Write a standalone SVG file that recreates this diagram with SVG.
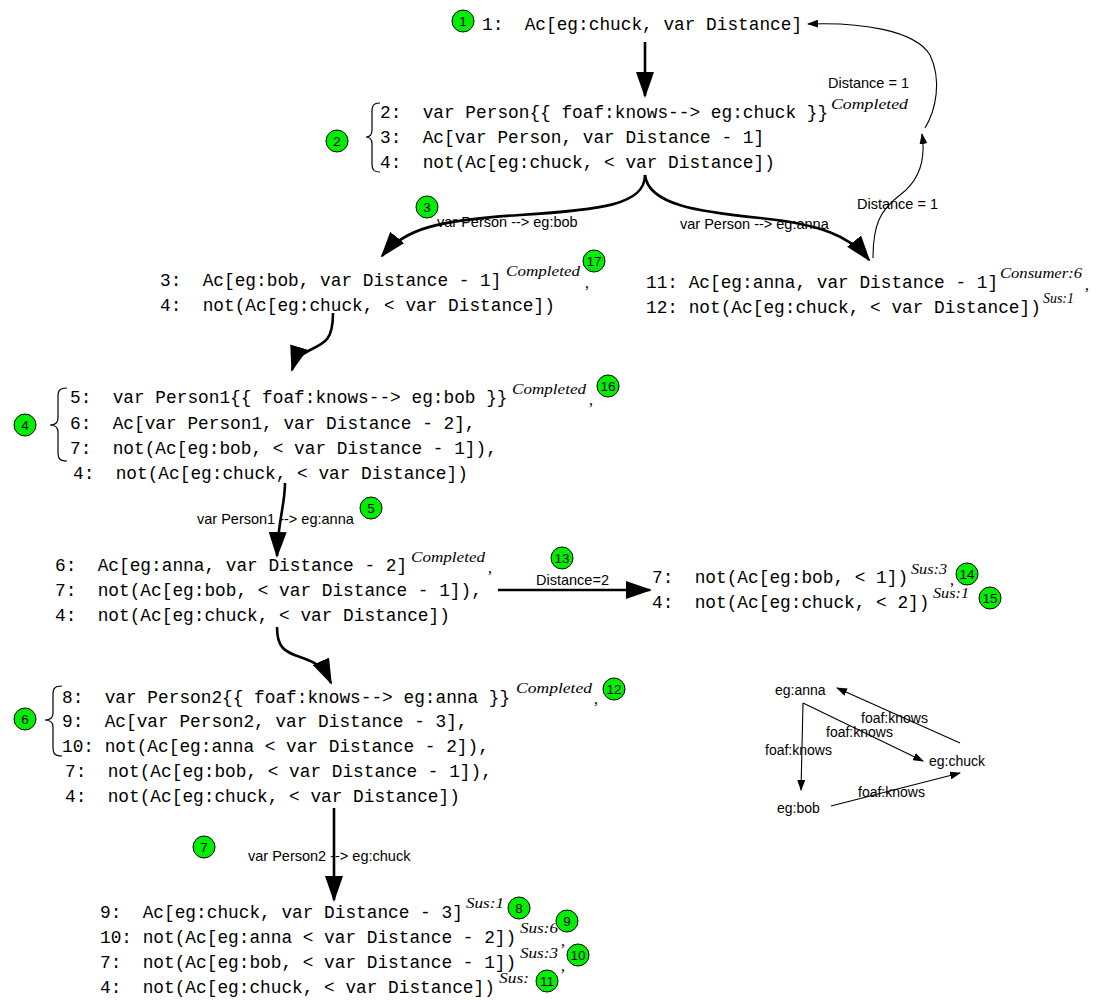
<svg xmlns="http://www.w3.org/2000/svg" width="1105" height="1000" viewBox="0 0 1105 1000">
<style>
.m{font-family:"Liberation Mono","DejaVu Sans Mono",monospace;font-size:17.8px;fill:#000}
.s{font-family:"Liberation Serif",serif;font-style:italic;font-size:14px;fill:#000}
.cm{font-family:"Liberation Serif",serif;font-size:16px;fill:#000}
.l{font-family:"Liberation Sans",Arial,sans-serif;font-size:14.5px;fill:#000}
.g{font-family:"Liberation Sans",Arial,sans-serif;font-size:14px;fill:#000}
.c circle{fill:#00ee00;stroke:#000;stroke-width:1}
.c text{font-family:"Liberation Sans",Arial,sans-serif;font-size:13.5px;fill:#000;text-anchor:middle}
.thick{fill:none;stroke:#000;stroke-width:2.6}
.thin{fill:none;stroke:#000;stroke-width:1.1}
.brace{fill:none;stroke:#000;stroke-width:1.2}
</style>
<defs>
<marker id="big" viewBox="0 0 26 18" markerWidth="26" markerHeight="18" refX="24" refY="9" orient="auto" markerUnits="userSpaceOnUse"><path d="M0,0 L26,9 L0,18 z" fill="#000"/></marker>
<marker id="small" viewBox="0 0 11 8" markerWidth="11" markerHeight="8" refX="10" refY="4" orient="auto" markerUnits="userSpaceOnUse"><path d="M0,0 L11,4 L0,8 z" fill="#000"/></marker>
</defs>

<g id="connectors">
<path class="thick" d="M645,42 L645,96" marker-end="url(#big)"/>
<path class="thick" d="M645,175 C645,205 600,210 520,215 C440,220 405,228 382,256" marker-end="url(#big)"/>
<path class="thick" d="M645,175 C648,205 700,212 760,218 C820,224 850,236 869,260" marker-end="url(#big)"/>
<path class="thin" d="M873,258 C873,225 880,210 900,195 C920,180 926,160 922,134" marker-end="url(#small)"/>
<path class="thin" d="M925,128 C936,110 942,80 930,55 C915,30 860,22 808,24" marker-end="url(#small)"/>
<path class="thick" d="M333,313 C333,340 325,343 310,350 C300,355 295,360 292,370" marker-end="url(#big)"/>
<path class="thick" d="M285,483 C285,505 278,520 277,556" marker-end="url(#big)"/>
<path class="thick" d="M498,590 L650,590" marker-end="url(#big)"/>
<path class="thick" d="M277,627 C277,648 285,652 300,657 C318,663 324,668 331,683" marker-end="url(#big)"/>
<path class="thick" d="M334,808 L334,900" marker-end="url(#big)"/>
<text class="l" x="437" y="227">var Person --&gt; eg:bob</text>
<text class="l" x="680" y="229">var Person --&gt; eg:anna</text>
<text class="l" x="857" y="209">Distance = 1</text>
<text class="l" x="828" y="88">Distance = 1</text>
<text class="l" x="197" y="524">var Person1 --&gt; eg:anna</text>
<text class="l" x="536" y="585">Distance=2</text>
<text class="l" x="248" y="861">var Person2 --&gt; eg:chuck</text>
</g>

<g id="node1">
<text class="m" x="482" y="30" xml:space="preserve">1:  Ac[eg:chuck, var Distance]</text>
</g>

<g id="node2">
<path class="brace" d="M380,103 C373,103 372,106 372,112 L372,130 C372,135 370,137 366,137 C370,137 372,139 372,144 L372,163 C372,169 373,172 380,172"/>
<text class="m" x="380" y="118" xml:space="preserve">2:  var Person{{ foaf:knows--&gt; eg:chuck }}</text>
<text class="s" x="831" y="109" textLength="77" lengthAdjust="spacingAndGlyphs">Completed</text>
<text class="m" x="380" y="143" xml:space="preserve">3:  Ac[var Person, var Distance - 1]</text>
<text class="m" x="380" y="168" xml:space="preserve">4:  not(Ac[eg:chuck, &lt; var Distance])</text>
</g>

<g id="node3">
<text class="m" x="160" y="286" xml:space="preserve">3:  Ac[eg:bob, var Distance - 1]</text>
<text class="s" x="506" y="276" textLength="74" lengthAdjust="spacingAndGlyphs">Completed</text>
<text class="cm" x="585" y="288">,</text>
<text class="m" x="160" y="311" xml:space="preserve">4:  not(Ac[eg:chuck, &lt; var Distance])</text>
</g>

<g id="node11">
<text class="m" x="646" y="288" xml:space="preserve">11: Ac[eg:anna, var Distance - 1]</text>
<text class="s" x="1000" y="278" textLength="82" lengthAdjust="spacingAndGlyphs">Consumer:6</text>
<text class="cm" x="1085" y="290">,</text>
<text class="m" x="646" y="313" xml:space="preserve">12: not(Ac[eg:chuck, &lt; var Distance])</text>
<text class="s" x="1043" y="303" textLength="31" lengthAdjust="spacingAndGlyphs">Sus:1</text>
</g>

<g id="node4">
<path class="brace" d="M67,388 C59,388 58,391 58,397 L58,418 C58,423 55,425 50,425 C55,425 58,427 58,432 L58,452 C58,458 59,461 67,461"/>
<text class="m" x="70" y="403" xml:space="preserve">5:  var Person1{{ foaf:knows--&gt; eg:bob }}</text>
<text class="s" x="512" y="394" textLength="74" lengthAdjust="spacingAndGlyphs">Completed</text>
<text class="cm" x="589" y="405">,</text>
<text class="m" x="70" y="429" xml:space="preserve">6:  Ac[var Person1, var Distance - 2],</text>
<text class="m" x="70" y="454" xml:space="preserve">7:  not(Ac[eg:bob, &lt; var Distance - 1]),</text>
<text class="m" x="73" y="479" xml:space="preserve">4:  not(Ac[eg:chuck, &lt; var Distance])</text>
</g>

<g id="node5">
<text class="m" x="55" y="571" xml:space="preserve">6:  Ac[eg:anna, var Distance - 2]</text>
<text class="s" x="411" y="562" textLength="74" lengthAdjust="spacingAndGlyphs">Completed</text>
<text class="cm" x="488" y="573">,</text>
<text class="m" x="55" y="596" xml:space="preserve">7:  not(Ac[eg:bob, &lt; var Distance - 1]),</text>
<text class="m" x="55" y="621" xml:space="preserve">4:  not(Ac[eg:chuck, &lt; var Distance])</text>
</g>

<g id="node13">
<text class="m" x="652" y="583" xml:space="preserve">7:  not(Ac[eg:bob, &lt; 1])</text>
<text class="s" x="911" y="574" textLength="36" lengthAdjust="spacingAndGlyphs">Sus:3</text>
<text class="cm" x="950" y="585">,</text>
<text class="m" x="652" y="608" xml:space="preserve">4:  not(Ac[eg:chuck, &lt; 2])</text>
<text class="s" x="933" y="598" textLength="36" lengthAdjust="spacingAndGlyphs">Sus:1</text>
</g>

<g id="node6">
<path class="brace" d="M62,686 C54,686 53,689 53,695 L53,713 C53,718 50,720 45,720 C50,720 53,722 53,727 L53,747 C53,753 54,756 62,756"/>
<text class="m" x="62" y="703" xml:space="preserve">8:  var Person2{{ foaf:knows--&gt; eg:anna }}</text>
<text class="s" x="516" y="693" textLength="76" lengthAdjust="spacingAndGlyphs">Completed</text>
<text class="cm" x="594" y="704">,</text>
<text class="m" x="62" y="727" xml:space="preserve">9:  Ac[var Person2, var Distance - 3],</text>
<text class="m" x="62" y="752" xml:space="preserve">10: not(Ac[eg:anna &lt; var Distance - 2]),</text>
<text class="m" x="65" y="777" xml:space="preserve">7:  not(Ac[eg:bob, &lt; var Distance - 1]),</text>
<text class="m" x="65" y="802" xml:space="preserve">4:  not(Ac[eg:chuck, &lt; var Distance])</text>
</g>

<g id="node8">
<text class="m" x="100" y="918" xml:space="preserve">9:  Ac[eg:chuck, var Distance - 3]</text>
<text class="s" x="466" y="908" textLength="38" lengthAdjust="spacingAndGlyphs">Sus:1</text>
<text class="m" x="100" y="943" xml:space="preserve">10: not(Ac[eg:anna &lt; var Distance - 2])</text>
<text class="s" x="520" y="933" textLength="38" lengthAdjust="spacingAndGlyphs">Sus:6</text>
<text class="cm" x="561" y="946">,</text>
<text class="m" x="100" y="968" xml:space="preserve">7:  not(Ac[eg:bob, &lt; var Distance - 1])</text>
<text class="s" x="520" y="958" textLength="38" lengthAdjust="spacingAndGlyphs">Sus:3</text>
<text class="cm" x="561" y="971">,</text>
<text class="m" x="100" y="993" xml:space="preserve">4:  not(Ac[eg:chuck, &lt; var Distance])</text>
<text class="s" x="499" y="983" textLength="30" lengthAdjust="spacingAndGlyphs">Sus:</text>
</g>

<g id="graph">
<text class="g" x="775" y="695">eg:anna</text>
<text class="g" x="929" y="766">eg:chuck</text>
<text class="g" x="777" y="813">eg:bob</text>
<path class="thin" d="M960,743 L837,688" marker-end="url(#small)"/>
<path class="thin" d="M803,703 L923,761" marker-end="url(#small)"/>
<path class="thin" d="M803,703 L801,790" marker-end="url(#small)"/>
<path class="thin" d="M831,806 L960,773" marker-end="url(#small)"/>
<text class="g" x="861" y="723">foaf:knows</text>
<text class="g" x="826" y="737">foaf:knows</text>
<text class="g" x="765" y="755">foaf:knows</text>
<text class="g" x="858" y="797">foaf:knows</text>
</g>

<g id="badges" class="c">
<g id="b1"><circle cx="463" cy="21" r="11"/><text x="463" y="26">1</text></g>
<g id="b2"><circle cx="337" cy="141" r="11"/><text x="337" y="146">2</text></g>
<g id="b3"><circle cx="427" cy="207" r="11"/><text x="427" y="212">3</text></g>
<g id="b17"><circle cx="594" cy="261" r="11"/><text x="594" y="266">17</text></g>
<g id="b4"><circle cx="25" cy="425" r="11"/><text x="25" y="430">4</text></g>
<g id="b16"><circle cx="608" cy="386" r="11"/><text x="608" y="391">16</text></g>
<g id="b5"><circle cx="371" cy="508" r="11"/><text x="371" y="513">5</text></g>
<g id="b13"><circle cx="562" cy="558" r="11"/><text x="562" y="563">13</text></g>
<g id="b14"><circle cx="967" cy="574" r="11"/><text x="967" y="579">14</text></g>
<g id="b15"><circle cx="990" cy="598" r="11"/><text x="990" y="603">15</text></g>
<g id="b6"><circle cx="25" cy="719" r="11"/><text x="25" y="724">6</text></g>
<g id="b12"><circle cx="614" cy="689" r="11"/><text x="614" y="694">12</text></g>
<g id="b7"><circle cx="204" cy="847" r="11"/><text x="204" y="852">7</text></g>
<g id="b8"><circle cx="519" cy="908" r="11"/><text x="519" y="913">8</text></g>
<g id="b9"><circle cx="567" cy="921" r="11"/><text x="567" y="926">9</text></g>
<g id="b10"><circle cx="578" cy="955" r="11"/><text x="578" y="960">10</text></g>
<g id="b11"><circle cx="547" cy="981" r="11"/><text x="547" y="986">11</text></g>
</g>
</svg>
